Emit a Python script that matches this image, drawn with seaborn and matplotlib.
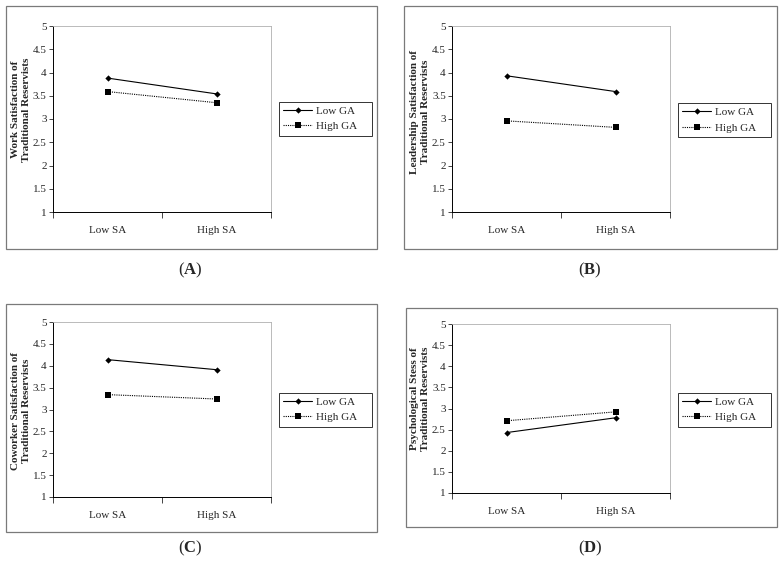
import pandas as pd
import seaborn as sns
import matplotlib.pyplot as plt
from matplotlib.patches import Rectangle

# data
sa_levels = ['Low SA', 'High SA']
ga_levels = ['Low GA', 'High GA']
panel_ids = ['A', 'B', 'C', 'D']
ylabels = ['Work Satisfaction of\nTraditional Reservists',
           'Leadership Satisfaction of\nTraditional Reservists',
           'Coworker Satisfaction of\nTraditional Reservists',
           'Psychological Stess of\nTraditional Reservists']
low_ga = [[3.88, 3.54], [3.93, 3.59], [4.14, 3.91], [2.43, 2.78]]
high_ga = [[3.59, 3.35], [2.96, 2.82], [3.34, 3.24], [2.71, 2.92]]
yticks = [1, 1.5, 2, 2.5, 3, 3.5, 4, 4.5, 5]

sns.set_style('white')
plt.rcParams['font.family'] = ['Liberation Serif', 'DejaVu Serif']
plt.rcParams['mathtext.fontset'] = 'custom'
plt.rcParams['mathtext.bf'] = 'Liberation Serif:bold'
plt.rcParams['mathtext.rm'] = 'Liberation Serif'

W, H = 780, 569
fig = plt.figure(figsize=(7.8, 5.69), dpi=100)

def fbox(x0, y0, x1, y1):
    # pixel box (top-left origin) -> figure fraction rect
    return [x0 / W, 1 - y1 / H, (x1 - x0) / W, (y1 - y0) / H]

# pixel layout: frame, plot area, legend box, caption position, ylabel y (axes frac)
layout = [
    dict(frame=(6, 6, 377, 249), plot=(53, 26, 271, 212), leg=(279, 101, 372, 136), cap=(190, 270), ly=0.55),
    dict(frame=(404, 6, 777, 249), plot=(452, 26, 670, 212), leg=(678, 103, 771, 137), cap=(590, 270), ly=0.54),
    dict(frame=(6, 304, 377, 532), plot=(53, 322, 271, 497), leg=(279, 394, 372, 425), cap=(190, 548), ly=0.49),
    dict(frame=(406, 308, 777, 527), plot=(452, 324, 670, 493), leg=(678, 394, 771, 425), cap=(590, 548), ly=0.56),
]

for i, pid in enumerate(panel_ids):
    L = layout[i]
    fx = fbox(*L['frame'])
    fig.patches.append(Rectangle((fx[0], fx[1]), fx[2], fx[3], transform=fig.transFigure,
                                 fill=False, edgecolor='#7a7a7a', linewidth=0.9))

    ax = fig.add_axes(fbox(*L['plot']))
    df = pd.DataFrame({
        'SA': sa_levels * 2,
        'value': low_ga[i] + high_ga[i],
        'GA': [ga_levels[0]] * 2 + [ga_levels[1]] * 2,
    })
    sns.lineplot(data=df[df.GA == 'Low GA'], x='SA', y='value', ax=ax, color='black',
                 linewidth=0.8, marker='D', markersize=3.2, markeredgewidth=0,
                 label='Low GA')
    sns.lineplot(data=df[df.GA == 'High GA'], x='SA', y='value', ax=ax, color='black',
                 linewidth=0.8, linestyle=(0, (1, 1)), marker='s', markersize=5,
                 markeredgewidth=0, label='High GA')

    ax.set_xlim(-0.5, 1.5)
    ax.set_ylim(1, 5)
    ax.set_yticks(yticks)
    ax.set_yticklabels([f'{t:g}' for t in yticks], fontsize=8)
    ax.set_xticks([0, 1])
    ax.set_xticklabels(sa_levels, fontsize=8)
    ax.set_xticks([-0.5, 0.5, 1.5], minor=True)
    ax.tick_params(axis='x', which='major', length=0, pad=10)
    ax.tick_params(axis='x', which='minor', length=4, width=0.6, direction='out', bottom=True)
    ax.tick_params(axis='y', length=3, width=0.6, direction='out', left=True, pad=1.5)
    for s in ['left', 'bottom']:
        ax.spines[s].set_color('black')
        ax.spines[s].set_linewidth(0.7)
    for s in ['top', 'right']:
        ax.spines[s].set_color('#b0b0b0')
        ax.spines[s].set_linewidth(0.6)
    ax.set_xlabel('')
    ax.set_ylabel(ylabels[i], fontsize=8, fontweight='bold', linespacing=1.3)
    ax.yaxis.set_label_coords(-0.10, L['ly'])

    lb = fbox(*L['leg'])
    leg = ax.legend(loc='center', bbox_to_anchor=(lb[0], lb[1], lb[2], lb[3]),
                    bbox_transform=fig.transFigure, mode='expand', fontsize=8,
                    frameon=True, fancybox=False, handlelength=2.6, handletextpad=0.3,
                    borderpad=0.4, labelspacing=0.5, borderaxespad=0)
    leg.get_frame().set_edgecolor('black')
    leg.get_frame().set_linewidth(0.7)

    cx, cy = L['cap']
    fig.text(cx / W, 1 - cy / H, '(' + r'$\mathbf{' + pid + '}$' + ')',
             ha='center', va='center', fontsize=12)

fig.savefig('out.png', dpi=100)
